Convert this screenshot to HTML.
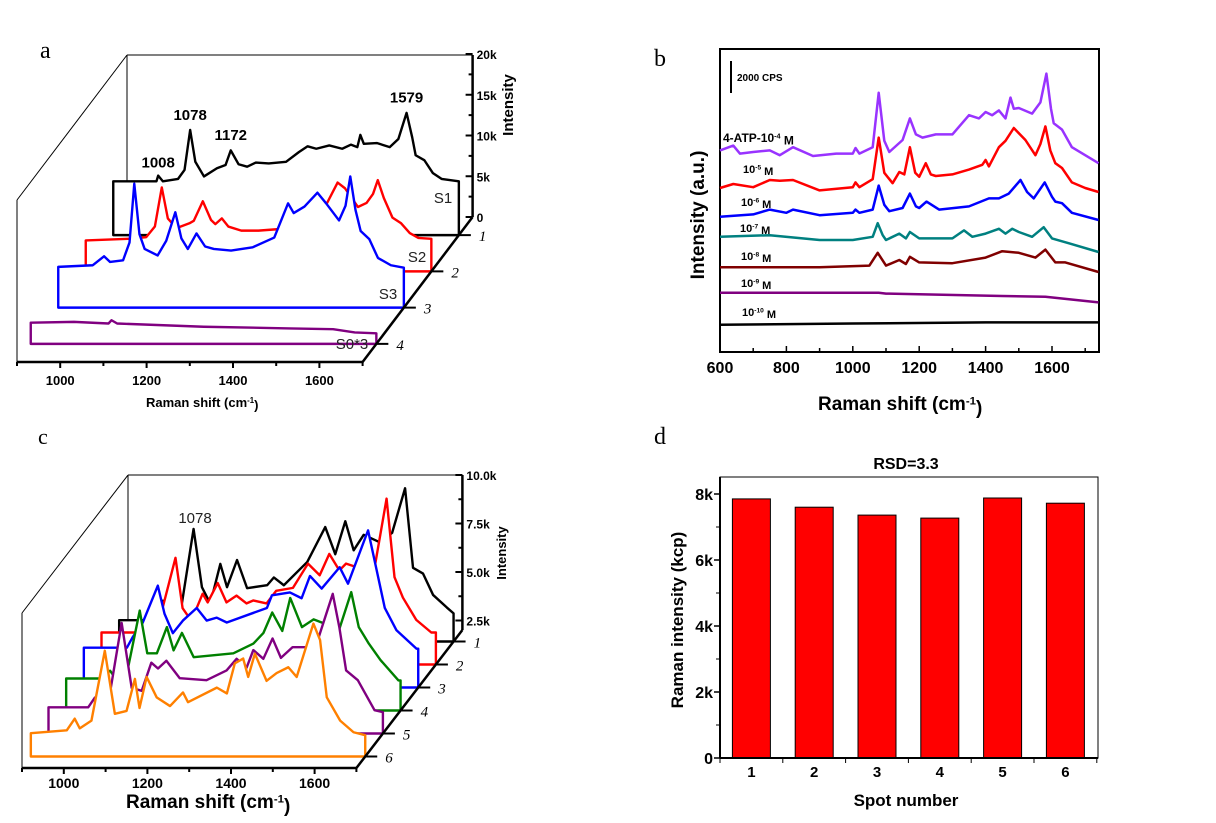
<!DOCTYPE html>
<html><head><meta charset="utf-8"><style>
html,body{margin:0;padding:0;background:#fff}
svg{display:block;font-family:"Liberation Sans",sans-serif}
</style></head><body>
<svg id="fig" width="1216" height="823" viewBox="0 0 1216 823">
<rect width="1216" height="823" fill="#fff"/>
<g id="pa"></g>
<g id="pb"></g>
<g id="pc"></g>
<g id="pd"></g>
</svg>
<script>
// ---------- DATA ----------
const aS1=[[900,6.6],[1000,6.6],[1004,7.3],[1015,6.6],[1050,6.9],[1065,8],[1078,12.9],[1090,9],[1110,7.2],[1140,8.2],[1150,8.4],[1160,8.6],[1172,10.4],[1190,8.7],[1210,8.4],[1230,8.9],[1260,8.8],[1300,9.0],[1330,10.2],[1350,10.9],[1370,10.6],[1400,11.0],[1430,10.6],[1450,11.1],[1465,10.8],[1472,12.3],[1480,11.2],[1510,11.3],[1540,10.8],[1560,11.8],[1579,15.0],[1592,12],[1600,9.8],[1620,9.2],[1640,7.6],[1660,6.9],[1700,6.6]];
const aS2=[[900,3.8],[1000,4.0],[1040,4.2],[1060,5.5],[1076,10.3],[1090,6.5],[1110,5.3],[1140,5.9],[1150,6.2],[1171,8.6],[1190,6.3],[1200,5.8],[1215,6.5],[1230,5.5],[1260,5.0],[1300,5.0],[1350,5.2],[1400,5.4],[1420,5.9],[1450,7.5],[1483,10.9],[1500,10.2],[1530,7.9],[1550,8.4],[1565,9.5],[1576,11.2],[1590,9],[1610,6.6],[1630,5.9],[1650,4.7],[1670,4.1],[1700,4.0]];
const aS3=[[900,5],[980,5.2],[1006,6.3],[1020,5.6],[1050,5.8],[1065,8],[1076,15.2],[1088,9],[1100,7.2],[1130,6.4],[1150,8.2],[1171,11.7],[1185,8.5],[1200,7.2],[1220,9.1],[1240,7.5],[1260,7.2],[1300,7.0],[1350,7.4],[1400,8.6],[1432,12.8],[1445,11.6],[1470,12.4],[1500,14.1],[1520,12.8],[1550,10.7],[1565,12.5],[1576,16.1],[1588,12],[1600,9.4],[1620,8.4],[1640,6.1],[1670,5.2],[1700,4.9]];
const aS0=[[900,2.6],[1000,2.7],[1080,2.5],[1087,2.9],[1100,2.5],[1300,2.1],[1500,1.9],[1600,1.8],[1650,1.4],[1700,1.3]];
const aTicksY=[0,5,10,15,20];
const aTickLabelsY=["0","5k","10k","15k","20k"];
const aTicksX=[1000,1200,1400,1600];
const aPeakLabels=[[1004,"1008",8.3],[1078,"1078",14.1],[1172,"1172",11.7],[1579,"1579",16.3]];
const b4=[[600,12.6],[640,12.9],[660,12.4],[700,12.5],[750,12.6],[780,12.3],[820,12.8],[880,12.25],[950,12.4],[1000,12.4],[1008,12.75],[1020,12.4],[1060,12.8],[1078,16.2],[1095,13.2],[1110,12.5],[1150,13.25],[1172,14.6],[1190,13.6],[1210,13.4],[1250,13.6],[1300,13.6],[1350,14.8],[1380,14.6],[1400,15],[1420,14.8],[1440,15.1],[1460,14.6],[1475,15.9],[1485,15.2],[1500,15.25],[1540,14.9],[1565,15.6],[1583,17.4],[1597,15.2],[1605,14.3],[1630,13.9],[1660,12.8],[1700,12.3],[1740,11.8]];
const b5=[[600,10.25],[640,10.5],[700,10.3],[750,10.75],[780,10.7],[820,10.75],[900,10.1],[1000,10.3],[1008,10.6],[1020,10.3],[1060,10.8],[1078,13.4],[1095,11.2],[1120,10.55],[1140,11.25],[1155,11.1],[1172,12.8],[1188,11.2],[1200,10.95],[1220,11.8],[1235,11.1],[1250,11],[1300,11.1],[1350,11.4],[1390,11.7],[1400,12],[1410,11.6],[1440,12.8],[1460,13.2],[1485,14],[1520,13.25],[1550,12.3],[1565,13],[1580,14.1],[1595,12.6],[1610,11.8],[1630,11.5],[1660,10.6],[1700,10.25],[1740,10]];
const b6=[[600,8.45],[700,8.6],[750,8.9],[800,8.7],[820,8.9],[900,8.55],[1000,8.7],[1008,8.9],[1020,8.7],[1060,8.9],[1078,10.4],[1095,9.2],[1110,8.8],[1150,9],[1172,9.9],[1190,9.1],[1200,9],[1222,9.4],[1260,8.9],[1350,9.1],[1410,9.6],[1440,9.6],[1470,9.9],[1505,10.75],[1525,10.0],[1545,9.6],[1578,10.6],[1600,9.7],[1610,9.4],[1630,9.3],[1660,8.7],[1740,8.25]];
const b7=[[600,7.2],[750,7.3],[900,7.0],[1000,7.0],[1060,7.2],[1075,8.05],[1090,7.3],[1100,7.0],[1140,7.4],[1160,7.1],[1172,7.5],[1200,7.1],[1300,7.1],[1335,7.6],[1360,7.2],[1400,7.4],[1440,7.7],[1460,7.4],[1480,7.7],[1500,7.5],[1540,7.2],[1575,7.8],[1600,7.1],[1650,6.8],[1740,6.25]];
const b8=[[600,5.3],[900,5.3],[1050,5.4],[1075,6.2],[1100,5.4],[1140,5.75],[1160,5.5],[1172,5.95],[1200,5.6],[1300,5.55],[1400,5.9],[1450,6.3],[1500,6.2],[1550,5.9],[1580,6.4],[1610,5.6],[1640,5.6],[1740,5.0]];
const b9=[[600,3.7],[1078,3.7],[1100,3.65],[1450,3.5],[1580,3.45],[1740,3.1]];
const b10=[[600,1.7],[1000,1.78],[1400,1.85],[1740,1.85]];
const bTicksX=[600,800,1000,1200,1400,1600];
const c1=[[900,1.1],[974,1.1],[1005,2.1],[1050,1.95],[1078,5.8],[1098,2.8],[1118,1.95],[1142,4],[1158,2.8],[1182,4.2],[1206,2.75],[1254,2.9],[1270,3.3],[1294,2.9],[1350,4.1],[1393,5.9],[1417,4.5],[1441,6.2],[1461,4.7],[1485,5.5],[1525,5.1],[1553,5.6],[1584,7.9],[1603,3.8],[1627,3.5],[1651,2.4],[1684,1.75],[1700,1.45]];
const c2=[[900,1.65],[979,1.65],[1007,2.1],[1046,2.9],[1077,5.5],[1094,2.9],[1115,2.25],[1142,3.65],[1154,3.2],[1178,4.2],[1199,3.2],[1223,3.55],[1247,3.15],[1263,3.3],[1295,3.15],[1318,3.8],[1358,3.95],[1394,5.2],[1422,4.6],[1445,5.7],[1469,4.85],[1485,5.2],[1513,5],[1553,4.95],[1582,8.55],[1601,4.5],[1621,3.45],[1653,2.3],[1689,1.65],[1700,1.65]];
const c3=[[900,2.05],[1003,2.05],[1017,2.6],[1041,3.35],[1077,5.25],[1093,3.8],[1113,2.8],[1137,3.45],[1170,4.1],[1194,3.45],[1218,3.6],[1242,3.35],[1306,3.85],[1338,4.1],[1350,4.75],[1393,4.9],[1421,4.6],[1441,5.75],[1469,5.1],[1512,6.2],[1532,5.35],[1580,8.1],[1600,6.1],[1620,4.1],[1648,2.95],[1696,2],[1700,2]];
const c4=[[900,1.65],[981,1.65],[1005,2.05],[1017,1.7],[1049,2.3],[1076,5.15],[1094,2.95],[1117,2.95],[1141,4.3],[1157,3.1],[1177,4],[1205,2.75],[1300,2.95],[1348,3.45],[1372,4],[1393,5.05],[1417,4.1],[1436,5.8],[1464,4.3],[1492,4.7],[1516,4.5],[1552,4.1],[1582,6.1],[1600,4.3],[1624,3.45],[1652,2.6],[1695,1.55],[1700,1.55]];
const c5=[[900,1.35],[995,1.35],[1011,1.85],[1046,1.95],[1075,5.7],[1099,2.35],[1123,2.2],[1146,3.65],[1162,3.35],[1182,3.75],[1214,2.85],[1278,2.75],[1326,3.25],[1350,3.85],[1374,3.4],[1390,4.3],[1414,3.85],[1436,4.9],[1456,3.9],[1484,4.45],[1516,4.45],[1544,4.8],[1580,7.2],[1596,5.45],[1612,3.25],[1640,2.75],[1680,1.2],[1700,1.1]];
const c6=[[900,1.2],[986,1.35],[1005,1.95],[1017,1.45],[1045,1.85],[1077,5.45],[1101,2.2],[1129,2.35],[1149,4],[1160,2.5],[1177,4.1],[1201,3.05],[1233,2.6],[1264,3.3],[1276,2.8],[1345,3.55],[1369,3.25],[1388,4.8],[1408,5.05],[1420,4.1],[1436,5.3],[1464,3.9],[1488,4.3],[1516,4.6],[1536,4.1],[1576,6.85],[1592,6],[1608,3.05],[1640,1.85],[1672,1.25],[1700,1.1]];
const cTicksY=[2.5,5,7.5,10];
const cTickLabelsY=["2.5k","5.0k","7.5k","10.0k"];
const cTicksX=[1000,1200,1400,1600];
const dSpots=["1","2","3","4","5","6"];
const dValues=[7.85,7.6,7.36,7.27,7.88,7.72];
const dTicksY=[0,2,4,6,8];
const dTickLabelsY=["0","2k","4k","6k","8k"];

// ---------- HELPERS ----------
const NS='http://www.w3.org/2000/svg';
function mk(tag,parent,name,attrs){
  const e=document.createElementNS(NS,tag);
  for(const k in attrs)e.setAttribute(k,attrs[k]);
  
  
  parent.appendChild(e);return e;
}
function txt(parent,name,x,y,s,attrs){
  const t=mk('text',parent,name,Object.assign({x:x,y:y},attrs));
  t.textContent=s;return t;
}
function line(p,name,x1,y1,x2,y2,w,c){return mk('line',p,name,{x1,y1,x2,y2,stroke:c||'#000','stroke-width':w||1});}
function supText(parent,name,x,y,pre,sup,post,attrs){
  const t=mk('text',parent,name,Object.assign({x:x,y:y},attrs));
  const a=document.createElementNS(NS,'tspan');a.textContent=pre;t.appendChild(a);
  const b=document.createElementNS(NS,'tspan');b.textContent=sup;b.setAttribute('font-size','0.6em');b.setAttribute('dy','-0.5em');t.appendChild(b);
  const c=document.createElementNS(NS,'tspan');c.textContent=post;c.setAttribute('dy','0.5em');t.appendChild(c);
  return t;
}

// ---------- WATERFALL ----------
function waterfall(g,cfg,specs,colors,names){
  const P=(w,v,d)=>[cfg.x0+(w-900)*cfg.sx+d*cfg.dx, cfg.y0+d*cfg.dy-v*cfg.sy];
  const n=specs.length;
  const bx=cfg.x0+cfg.dx, by=cfg.y0+cfg.dy, xR=cfg.x0+800*cfg.sx+cfg.dx;
  line(g,'back-top-edge',bx,cfg.top,xR,cfg.top,1);
  line(g,'back-left-edge',bx,cfg.top,bx,cfg.backLeftBottom,1);
  line(g,'left-diagonal-edge',bx,cfg.top,cfg.x0,cfg.top-cfg.dy,1);
  line(g,'front-left-edge',cfg.x0,cfg.top-cfg.dy,cfg.x0,cfg.y0,1);
  line(g,'intensity-axis',xR,cfg.top,xR,by,2.5);
  cfg.ticksY.forEach((v,i)=>{
    const y=cfg.yZero-v*cfg.sy;
    line(g,'y-tick',xR-7,y,xR,y,2);
    txt(g,'y-tick-label',xR+4,y+5,cfg.tickLabelsY[i],{'font-size':cfg.ylabFs,'font-weight':'bold'});
  });
  for(let i=0;i<cfg.ticksY.length-1;i++){
    const y=cfg.yZero-(cfg.ticksY[i]+cfg.ticksY[i+1])/2*cfg.sy;
    line(g,'y-minor-tick',xR-4,y,xR,y,2);
  }
  for(let i=0;i<n;i++){
    const d=1-(i+0.5)/n, s=specs[i];
    let dstr='M'+P(900,0,d).join(',');
    s.forEach(p=>{dstr+=' L'+P(p[0],p[1],d).join(',');});
    dstr+=' L'+P(1700,0,d).join(',')+' Z';
    mk('path',g,names[i],{d:dstr,fill:'#fff',stroke:colors[i],'stroke-width':2.4,'stroke-linejoin':'round'});
    const rp=P(1700,0,d);
    line(g,'row-tick',rp[0],rp[1],rp[0]+12,rp[1],2);
    txt(g,'row-label',rp[0]+cfg.rowLabDx,rp[1]+6,String(i+1),{'font-size':cfg.rowFs,'font-style':'italic','font-family':'"Liberation Serif",serif'});
  }
  line(g,'x-axis',cfg.x0,cfg.y0,cfg.x0+800*cfg.sx,cfg.y0,2.5);
  line(g,'depth-axis',cfg.x0+800*cfg.sx,cfg.y0,xR,by,2.5);
  for(let w=900;w<=1700;w+=100){
    const x=cfg.x0+(w-900)*cfg.sx;
    line(g,'x-tick',x,cfg.y0,x,cfg.y0+(w%200===0?6:4),2);
  }
  cfg.ticksX.forEach(w=>{
    txt(g,'x-tick-label',cfg.x0+(w-900)*cfg.sx,cfg.y0+cfg.xlabDy,String(w),{'font-size':cfg.xlabFs,'font-weight':'bold','text-anchor':'middle'});
  });
}

// ---------- PANEL A ----------
const ga=document.getElementById('pa');
const cfgA={x0:17,y0:362,sx:0.432,dx:110,dy:-145,sy:8.15,top:55,backLeftBottom:183,yZero:217,
  ticksX:aTicksX,ticksY:aTicksY,tickLabelsY:aTickLabelsY,xlabDy:23,xlabFs:13,ylabFs:12,rowFs:15,rowLabDx:20};
waterfall(ga,cfgA,[aS1,aS2,aS3,aS0],['#000','#ff0000','#0000ff','#800080'],['spectrum-s1','spectrum-s2','spectrum-s3','spectrum-s0']);
txt(ga,'panel-label-a',40,58,'a',{'font-size':24,'font-family':'"Liberation Serif",serif'});
supText(ga,'x-axis-title',146,407,'Raman shift (cm','-1',')',{'font-size':13,'font-weight':'bold'});
txt(ga,'y-axis-title',0,0,'Intensity',{'font-size':15,'font-weight':'bold','text-anchor':'middle',transform:'translate(513,105) rotate(-90)'});
aPeakLabels.forEach(p=>{
  const x=17+(p[0]-900)*0.432+0.875*110, y=362-0.875*145-p[2]*8.15;
  txt(ga,'peak-label',x,y,p[1],{'font-size':15,'font-weight':'bold','text-anchor':'middle'});
});
[['S1',443,203],['S2',417,262],['S3',388,299],['S0*3',352,349]].forEach(l=>{
  txt(ga,'series-label',l[1],l[2],l[0],{'font-size':15,'text-anchor':'middle',fill:'#222'});
});

// ---------- PANEL B ----------
const gb=document.getElementById('pb');
const bx=w=>720+(w-600)*0.332, by=v=>352-v*16;
mk('rect',gb,'plot-frame',{x:720,y:49,width:379,height:303,fill:'none',stroke:'#000','stroke-width':2});
for(let w=600;w<=1700;w+=100){line(gb,'x-tick',bx(w),352,bx(w),352-(w%200===0?6:4),1.5);}
bTicksX.forEach(w=>txt(gb,'x-tick-label',bx(w),373,String(w),{'font-size':16,'font-weight':'bold','text-anchor':'middle'}));
const bSeries=[b4,b5,b6,b7,b8,b9,b10];
const bColors=['#9933ff','#ff0000','#0000ff','#008080','#800000','#800080','#000000'];
const bNames=['spectrum-1e-4','spectrum-1e-5','spectrum-1e-6','spectrum-1e-7','spectrum-1e-8','spectrum-1e-9','spectrum-1e-10'];
bSeries.forEach((s,i)=>{
  const pts=s.map(p=>bx(p[0]).toFixed(1)+','+by(p[1]).toFixed(1)).join(' ');
  mk('polyline',gb,bNames[i],{points:pts,fill:'none',stroke:bColors[i],'stroke-width':2.5,'stroke-linejoin':'round'});
});
line(gb,'scale-bar',731,61,731,93,2);
txt(gb,'scale-bar-label',737,81,'2000 CPS',{'font-size':10,'font-weight':'bold'});
supText(gb,'label-1e-4',723,142,'4-ATP-10','-4',' M',{'font-size':12,'font-weight':'bold'});
[['-5',743,173],['-6',741,206],['-7',740,232],['-8',741,260],['-9',741,287],['-10',742,316]].forEach(l=>{
  supText(gb,'conc-label',l[1],l[2],'10',l[0],' M',{'font-size':11,'font-weight':'bold'});
});
txt(gb,'panel-label-b',654,66,'b',{'font-size':24,'font-family':'"Liberation Serif",serif'});
supText(gb,'x-axis-title',818,410,'Raman shift (cm','-1',')',{'font-size':19,'font-weight':'bold'});
txt(gb,'y-axis-title',0,0,'Intensity (a.u.)',{'font-size':19,'font-weight':'bold','text-anchor':'middle',transform:'translate(704,215) rotate(-90)'});

// ---------- PANEL C ----------
const gc=document.getElementById('pc');
const cfgC={x0:22,y0:768,sx:0.418,dx:106,dy:-138,sy:19.4,top:475,backLeftBottom:620,yZero:669,
  ticksX:cTicksX,ticksY:cTicksY,tickLabelsY:cTickLabelsY,xlabDy:20,xlabFs:14,ylabFs:12,rowFs:15,rowLabDx:20};
waterfall(gc,cfgC,[c1,c2,c3,c4,c5,c6],['#000','#ff0000','#0000ff','#008000','#800080','#ff8000'],['spectrum-spot1','spectrum-spot2','spectrum-spot3','spectrum-spot4','spectrum-spot5','spectrum-spot6']);
txt(gc,'panel-label-c',38,444,'c',{'font-size':22,'font-family':'"Liberation Serif",serif'});
txt(gc,'peak-label',195,523,'1078',{'font-size':15,'text-anchor':'middle',fill:'#222'});
supText(gc,'x-axis-title',126,808,'Raman shift (cm','-1',')',{'font-size':19,'font-weight':'bold'});
txt(gc,'y-axis-title',0,0,'Intensity',{'font-size':13,'font-weight':'bold','text-anchor':'middle',transform:'translate(506,553) rotate(-90)'});

// ---------- PANEL D ----------
const gd=document.getElementById('pd');
const dx=i=>720+(i+0.5)*62.8, dy=v=>758-v*33;
dValues.forEach((v,i)=>{
  mk('rect',gd,'bar-spot-'+dSpots[i],{x:(dx(i)-19).toFixed(1),y:dy(v).toFixed(1),width:38,height:(758-dy(v)).toFixed(1),fill:'#ff0000',stroke:'#000','stroke-width':1});
});
mk('rect',gd,'plot-frame',{x:720,y:477,width:378,height:281,fill:'none',stroke:'#000','stroke-width':1});
line(gd,'y-axis',720,477,720,758,2);
line(gd,'x-axis',720,758,1098,758,2);
dTicksY.forEach((v,i)=>{
  line(gd,'y-tick',714,dy(v),720,dy(v),1.5);
  txt(gd,'y-tick-label',713,dy(v)+6,dTickLabelsY[i],{'font-size':16,'font-weight':'bold','text-anchor':'end'});
  if(i<dTicksY.length-1){line(gd,'y-minor-tick',716,dy(v+1),720,dy(v+1),1);}
});
for(let k=0;k<=6;k++){line(gd,'x-tick',720+k*62.8,758,720+k*62.8,763,1);}
dSpots.forEach((s,i)=>txt(gd,'x-tick-label',dx(i),777,s,{'font-size':15,'font-weight':'bold','text-anchor':'middle'}));
txt(gd,'chart-title',906,469,'RSD=3.3',{'font-size':16,'font-weight':'bold','text-anchor':'middle'});
txt(gd,'x-axis-title',906,806,'Spot number',{'font-size':17,'font-weight':'bold','text-anchor':'middle'});
txt(gd,'y-axis-title',0,0,'Raman intensity (kcp)',{'font-size':17,'font-weight':'bold','text-anchor':'middle',transform:'translate(683,620) rotate(-90)'});
txt(gd,'panel-label-d',654,444,'d',{'font-size':24,'font-family':'"Liberation Serif",serif'});
</script>
</body></html>
